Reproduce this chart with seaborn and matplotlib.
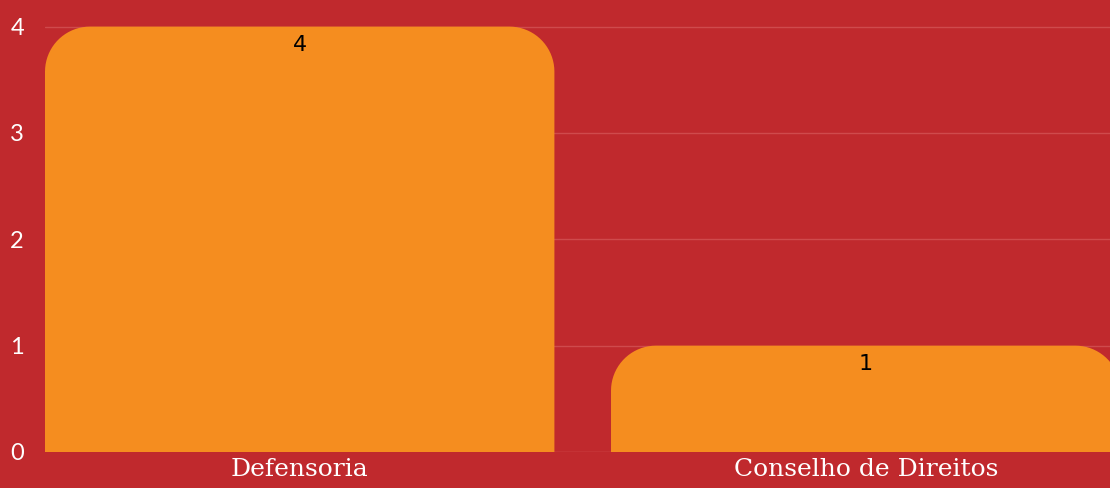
import numpy as np
import pandas as pd
import seaborn as sns
import matplotlib
matplotlib.use('Agg')
import matplotlib.pyplot as plt
from matplotlib.path import Path
from matplotlib.patches import PathPatch

categorias = ['Defensoria', 'Conselho de Direitos']
valores = [4, 1]

bg = '#C0292D'
laranja = '#F58D1F'

sns.set_style('white')
fig = plt.figure(figsize=(11.1, 4.88), dpi=100, facecolor=bg)
ax = fig.add_axes([45 / 1110, 36 / 488, 1065 / 1110, 452 / 488])
ax.set_facecolor(bg)

df = pd.DataFrame({'cat': categorias, 'val': valores})
sns.barplot(data=df, x='cat', y='val', color=laranja, width=0.9, saturation=1, ax=ax)

ax.set_xlim(-0.45, 1.4316)
ax.set_ylim(0, 4.25)

# trocar retangulos por barras com cantos de cima arredondados
rx = 45 / 566
ry = 45 / 106.25
t = np.linspace(0, np.pi / 2, 20)
for p in list(ax.patches):
    x0, y0 = p.get_x(), p.get_y()
    w, h = p.get_width(), p.get_height()
    pts = [(x0, y0)]
    cx, cy = x0 + rx, y0 + h - ry
    pts += [(cx - rx * np.cos(a), cy + ry * np.sin(a)) for a in t]
    cx = x0 + w - rx
    pts += [(cx + rx * np.sin(a), cy + ry * np.cos(a)) for a in t]
    pts += [(x0 + w, y0), (x0, y0)]
    patch = PathPatch(Path(pts), facecolor=laranja, edgecolor='none', zorder=3)
    p.remove()
    ax.add_patch(patch)

for i, v in enumerate(valores):
    ax.text(i, v - 0.17, str(v), ha='center', va='center', fontsize=16, color='black', zorder=4)

ax.set_yticks([0, 1, 2, 3, 4])
for y in [1, 2, 3, 4]:
    ax.axhline(y, color='#CF4A4C', lw=1, zorder=1)
ax.axhline(0, color='#D85A5A', lw=1, zorder=1)

ax.tick_params(axis='y', colors='white', labelsize=17, length=0, pad=25)
ax.tick_params(axis='x', colors='white', length=0, pad=4)
for lab in ax.get_yticklabels():
    lab.set_horizontalalignment('left')
    lab.set_fontfamily('Lato')
ax.set_xticks(range(len(categorias)))
ax.set_xticklabels(categorias, fontsize=18, family='DejaVu Serif', color='white')
ax.set_xlabel('')
ax.set_ylabel('')
for s in ax.spines.values():
    s.set_visible(False)

fig.savefig('out.png', dpi=100, facecolor=bg)
